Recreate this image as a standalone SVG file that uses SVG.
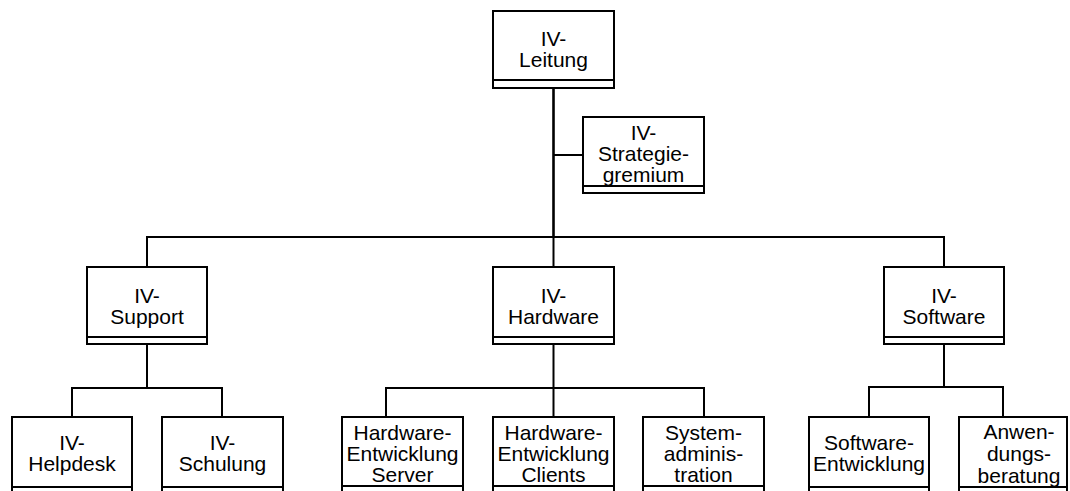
<svg xmlns="http://www.w3.org/2000/svg" width="1070" height="491" viewBox="0 0 1070 491">
<style>
.box{fill:#fff;stroke:#000;stroke-width:2}
.sep{fill:none;stroke:#000;stroke-width:2}
.t{font-family:"Liberation Sans",Arial,sans-serif;font-size:21px;fill:#000;text-anchor:middle}
.c{fill:none;stroke:#000;stroke-width:2}
</style>
<rect width="1070" height="491" fill="#fff"/>
<g id="connectors">
<path class="c" d="M553.5 88 V237" style="stroke-width:2.6"/>
<path class="c" d="M553.5 155 H583"/>
<path class="c" d="M147 267 V237 H944 V267"/>
<path class="c" d="M553.5 237 V267"/>
<path class="c" d="M147 344 V388"/>
<path class="c" d="M72 417 V388 H222 V417"/>
<path class="c" d="M553.5 344 V388"/>
<path class="c" d="M386 417 V388 H704 V417"/>
<path class="c" d="M553.5 388 V417"/>
<path class="c" d="M944 344 V387"/>
<path class="c" d="M869 417 V387 H1003 V417"/>
</g>
<g id="n-leitung">
<rect class="box" x="493" y="11" width="121" height="77"/><line class="sep" x1="493" y1="80" x2="614" y2="80"/>
<text class="t" x="553.5" y="46">IV-</text><text class="t" x="553.5" y="67">Leitung</text>
</g>
<g id="n-strategie">
<rect class="box" x="583" y="117" width="121" height="76"/><line class="sep" x1="583" y1="186" x2="704" y2="186"/>
<text class="t" x="643.5" y="140">IV-</text><text class="t" x="643.5" y="161">Strategie-</text><text class="t" x="643.5" y="182">gremium</text>
</g>
<g id="n-support">
<rect class="box" x="87" y="267" width="120" height="77"/><line class="sep" x1="87" y1="337" x2="207" y2="337"/>
<text class="t" x="147" y="303">IV-</text><text class="t" x="147" y="324">Support</text>
</g>
<g id="n-hardware">
<rect class="box" x="493" y="267" width="121" height="77"/><line class="sep" x1="493" y1="337" x2="614" y2="337"/>
<text class="t" x="553.5" y="303">IV-</text><text class="t" x="553.5" y="324">Hardware</text>
</g>
<g id="n-software">
<rect class="box" x="884" y="267" width="120" height="77"/><line class="sep" x1="884" y1="337" x2="1004" y2="337"/>
<text class="t" x="944" y="303">IV-</text><text class="t" x="944" y="324">Software</text>
</g>
<g id="n-helpdesk">
<rect class="box" x="12" y="417" width="120" height="78"/><line class="sep" x1="12" y1="487" x2="132" y2="487"/>
<text class="t" x="72" y="450">IV-</text><text class="t" x="72" y="471">Helpdesk</text>
</g>
<g id="n-schulung">
<rect class="box" x="162" y="417" width="121" height="78"/><line class="sep" x1="162" y1="487" x2="283" y2="487"/>
<text class="t" x="222.5" y="450">IV-</text><text class="t" x="222.5" y="471">Schulung</text>
</g>
<g id="n-hwserver">
<rect class="box" x="342" y="417" width="121" height="78"/><line class="sep" x1="342" y1="486" x2="463" y2="486"/>
<text class="t" x="402.5" y="440">Hardware-</text><text class="t" x="402.5" y="461">Entwicklung</text><text class="t" x="402.5" y="482">Server</text>
</g>
<g id="n-hwclients">
<rect class="box" x="493" y="417" width="121" height="78"/><line class="sep" x1="493" y1="486" x2="614" y2="486"/>
<text class="t" x="553.5" y="440">Hardware-</text><text class="t" x="553.5" y="461">Entwicklung</text><text class="t" x="553.5" y="482">Clients</text>
</g>
<g id="n-sysadmin">
<rect class="box" x="643" y="417" width="121" height="78"/><line class="sep" x1="643" y1="486" x2="764" y2="486"/>
<text class="t" x="703.5" y="440">System-</text><text class="t" x="703.5" y="461">adminis-</text><text class="t" x="703.5" y="482">tration</text>
</g>
<g id="n-swentw">
<rect class="box" x="809" y="417" width="120" height="78"/><line class="sep" x1="809" y1="487" x2="929" y2="487"/>
<text class="t" x="869" y="450">Software-</text><text class="t" x="869" y="471">Entwicklung</text>
</g>
<g id="n-anwendung">
<rect class="box" x="959" y="417" width="108" height="78"/><line class="sep" x1="959" y1="487" x2="1067" y2="487"/>
<text class="t" x="1019" y="439">Anwen-</text><text class="t" x="1019" y="461">dungs-</text><text class="t" x="1019" y="483">beratung</text>
</g>
</svg>
